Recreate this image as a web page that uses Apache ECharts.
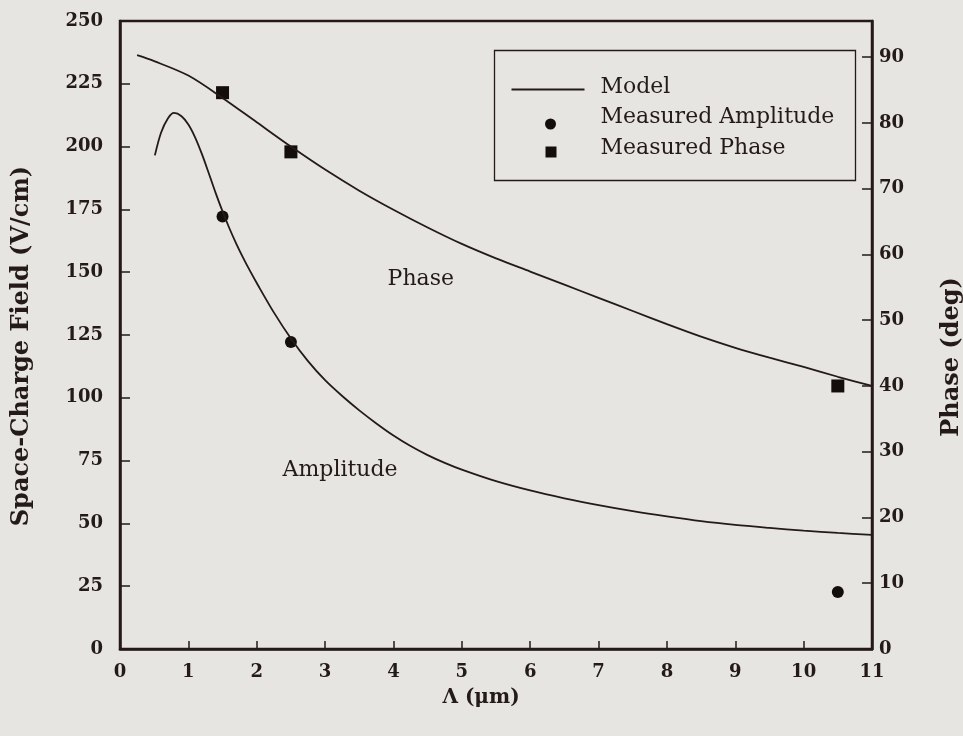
<!DOCTYPE html>
<html>
<head>
<meta charset="utf-8">
<script src="https://cdn.jsdelivr.net/npm/echarts@6/dist/echarts.min.js"></script>
<style>
  html, body { margin: 0; padding: 0; background: #e7e5e1; }
  #chart { width: 963px; height: 736px; }
</style>
</head>
<body>
<div id="chart"></div>
<script>
// Grating period Λ (µm) and modelled space-charge field amplitude (V/cm)
const ampModelX = [0.51, 0.6, 0.7, 0.79, 0.9, 1.0, 1.1, 1.2, 1.3, 1.4, 1.5, 1.6, 1.7, 1.8, 1.9, 2.0, 2.25, 2.5, 2.75, 3.0, 3.25, 3.5, 3.75, 4.0, 4.25, 4.5, 4.75, 5.0, 5.5, 6.0, 6.5, 7.0, 7.5, 8.0, 8.5, 9.0, 9.5, 10.0, 10.5, 11.0];
const ampModelY = [196.5, 205.5, 211.2, 213.4, 212.1, 208.8, 203.6, 196.9, 189.3, 181.5, 174.2, 167.5, 161.4, 155.8, 150.6, 145.7, 134.0, 123.6, 114.6, 107.0, 100.7, 95.0, 89.8, 85.0, 80.8, 77.2, 74.1, 71.4, 66.8, 63.1, 60.0, 57.3, 54.9, 52.8, 50.9, 49.4, 48.2, 47.1, 46.2, 45.4];

// Modelled phase (deg)
const phaseModelX = [0.25, 0.5, 1.0, 1.5, 2.0, 2.5, 3.0, 3.5, 4.0, 4.5, 5.0, 5.5, 6.0, 6.5, 7.0, 7.5, 8.0, 8.5, 9.0, 9.5, 10.0, 10.5, 11.0];
const phaseModelY = [90.3, 89.4, 87.2, 83.8, 80.1, 76.4, 72.9, 69.7, 66.8, 64.1, 61.6, 59.4, 57.4, 55.4, 53.4, 51.4, 49.4, 47.5, 45.8, 44.3, 42.9, 41.4, 40.0];

// Measurements
const measuredX = [1.5, 2.5, 10.5];
const measuredAmplitude = [172.2, 122.2, 22.7];
const measuredPhase = [84.6, 75.6, 40.0];

// In-plot curve annotations [Λ, field]
const annotations = [
  { text: 'Phase', x: 4.4, y: 147 },
  { text: 'Amplitude', x: 3.22, y: 71 }
];

// Legend entries
const legendNames = ['Model', 'Measured Amplitude', 'Measured Phase'];

const zip = (xs, ys) => xs.map((x, i) => [x, ys[i]]);

const INK = '#241a17';
const MARK = '#130d0c';
const SERIF = '"DejaVu Serif", "Liberation Serif", serif';

const chart = echarts.init(document.getElementById('chart'), null, { renderer: 'canvas' });

const tickLabel = { color: INK, fontFamily: SERIF, fontWeight: 'bold', fontSize: 18 };
const axisName = { color: INK, fontFamily: SERIF, fontWeight: 'bold', fontSize: 24 };
const legendText = { fill: INK, font: '22px ' + SERIF };

// Legend box drawn as a framed group: line / dot / square swatches with captions
const legendGroup = {
  type: 'group', left: 492, top: 48, z: 10, silent: true,
  children: [
    { type: 'rect', shape: { x: 0, y: 0, width: 361, height: 130 },
      style: { fill: 'none', stroke: INK, lineWidth: 1.3 } },
    { type: 'line', shape: { x1: 17, y1: 39, x2: 90, y2: 39 },
      style: { stroke: INK, lineWidth: 1.8 } },
    { type: 'circle', shape: { cx: 56, cy: 73.5, r: 5.5 }, style: { fill: MARK } },
    { type: 'rect', shape: { x: 51, y: 96, width: 11, height: 11 }, style: { fill: MARK } },
    { type: 'text', x: 106, y: 37, style: Object.assign({ text: legendNames[0], verticalAlign: 'middle' }, legendText) },
    { type: 'text', x: 106, y: 67, style: Object.assign({ text: legendNames[1], verticalAlign: 'middle' }, legendText) },
    { type: 'text', x: 106, y: 98, style: Object.assign({ text: legendNames[2], verticalAlign: 'middle' }, legendText) }
  ]
};

chart.setOption({
  backgroundColor: '#e7e5e1',
  animation: false,
  grid: {
    left: 120, right: 91, top: 21, bottom: 87,
    outerBoundsMode: 'none', containLabel: false,
    show: true, borderColor: INK, borderWidth: 2.5, backgroundColor: 'transparent'
  },
  xAxis: {
    type: 'value', min: 0, max: 11, interval: 1,
    name: 'Λ (μm)', nameLocation: 'middle', nameGap: 39,
    nameTextStyle: Object.assign({}, axisName, { fontSize: 20, padding: [0, 30, 0, 0] }),
    axisLine: { show: true, lineStyle: { color: INK, width: 2.5 } },
    axisTick: { show: true, inside: true, length: 8, lineStyle: { color: INK, width: 1.5 } },
    axisLabel: Object.assign({ margin: 14 }, tickLabel),
    splitLine: { show: false }
  },
  yAxis: [
    {
      type: 'value', min: 0, max: 250, interval: 25,
      name: 'Space-Charge Field (V/cm)', nameLocation: 'middle', nameGap: 86, nameRotate: 90,
      nameTextStyle: Object.assign({}, axisName, { padding: [0, 22, 0, 0] }),
      axisLine: { show: true, lineStyle: { color: INK, width: 2.5 } },
      axisTick: { show: true, inside: true, length: 10, lineStyle: { color: INK, width: 1.5 } },
      axisLabel: Object.assign({ margin: 17 }, tickLabel),
      splitLine: { show: false }
    },
    {
      type: 'value', min: 0, max: 95.5, interval: 10, position: 'right',
      name: 'Phase (deg)', nameLocation: 'middle', nameGap: 68, nameRotate: 90,
      nameTextStyle: Object.assign({}, axisName, { padding: [0, 44, 0, 0] }),
      axisLine: { show: true, lineStyle: { color: INK, width: 2.5 } },
      axisTick: { show: true, inside: true, length: 10, lineStyle: { color: INK, width: 1.5 } },
      axisLabel: Object.assign({ margin: 7, showMaxLabel: false }, tickLabel),
      splitLine: { show: false }
    }
  ],
  graphic: [legendGroup],
  series: [
    {
      name: legendNames[0], type: 'line', yAxisIndex: 0,
      data: zip(ampModelX, ampModelY), smooth: 0.3, showSymbol: false, symbol: 'none',
      lineStyle: { color: INK, width: 1.8 }, itemStyle: { color: INK }
    },
    {
      name: legendNames[0], type: 'line', yAxisIndex: 1,
      data: zip(phaseModelX, phaseModelY), smooth: 0.3, showSymbol: false, symbol: 'none',
      lineStyle: { color: INK, width: 1.8 }, itemStyle: { color: INK }
    },
    {
      name: legendNames[1], type: 'scatter', yAxisIndex: 0,
      data: zip(measuredX, measuredAmplitude), symbol: 'circle', symbolSize: 12,
      itemStyle: { color: MARK, opacity: 1 }
    },
    {
      name: legendNames[2], type: 'scatter', yAxisIndex: 1,
      data: zip(measuredX, measuredPhase), symbol: 'rect', symbolSize: 13,
      itemStyle: { color: MARK, opacity: 1 }
    },
    {
      name: 'annotations', type: 'scatter', yAxisIndex: 0, symbolSize: 0, silent: true,
      itemStyle: { opacity: 1 },
      data: annotations.map(a => ({ value: [a.x, a.y], name: a.text })),
      label: {
        show: true, position: 'inside', formatter: p => p.name, opacity: 1,
        color: INK, fontFamily: SERIF, fontSize: 22
      }
    }
  ]
});
</script>
</body>
</html>
